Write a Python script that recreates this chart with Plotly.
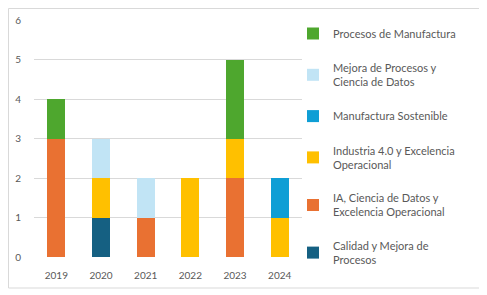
import plotly.graph_objects as go

years = ["2019", "2020", "2021", "2022", "2023", "2024"]
series_names = [
    "Calidad y Mejora de<br>Procesos",
    "IA, Ciencia de Datos y<br>Excelencia Operacional",
    "Industria 4.0 y Excelencia<br>Operacional",
    "Manufactura Sostenible",
    "Mejora de Procesos y<br>Ciencia de Datos",
    "Procesos de Manufactura",
]
calidad = [0, 1, 0, 0, 0, 0]
ia = [3, 0, 1, 0, 2, 0]
industria = [0, 1, 0, 2, 1, 1]
sostenible = [0, 0, 0, 0, 0, 1]
mejora = [0, 1, 1, 0, 0, 0]
procesos = [1, 0, 0, 0, 2, 0]
values = [calidad, ia, industria, sostenible, mejora, procesos]
colors = ["#156082", "#E97132", "#FFC000", "#0F9ED5", "#C1E4F5", "#4EA72E"]

# page has 8px body margin; figure occupies the rest of the 487x295 window
W, H = 479, 287
L, R, T, B = 26, 185, 12, 38
pw, ph = W - L - R, H - T - B

fig = go.Figure()
n = len(series_names)
for i, (name, vals, col) in enumerate(zip(series_names, values, colors)):
    fig.add_trace(go.Bar(x=years, y=vals, name=name, marker_color=col,
                         marker_line_width=0, legendgroup=name,
                         legendrank=n - i))

fig.update_layout(
    width=W, height=H, barmode="stack", bargap=0.6,
    margin=dict(l=L, r=R, t=T, b=B, autoexpand=False),
    paper_bgcolor="white", plot_bgcolor="white",
    font=dict(family="Lato, Noto Sans, sans-serif", size=10, color="#595959"),
    legend=dict(traceorder="grouped", x=(285 - L) / pw, y=(249 - 11) / ph,
                xanchor="left", yanchor="top", font=dict(size=11, color="#595959"),
                tracegroupgap=16, itemwidth=30, bgcolor="rgba(0,0,0,0)",
                maxheight=300),
    xaxis=dict(showgrid=False, showline=False, ticks="outside", ticklen=9,
               tickcolor="rgba(0,0,0,0)", tickfont=dict(size=10)),
    yaxis=dict(range=[0, 6], dtick=1, showgrid=True, gridcolor="#D9D9D9", gridwidth=1,
               zeroline=False, showline=False, ticks="outside", ticklen=10,
               tickcolor="rgba(0,0,0,0)", tickfont=dict(size=10)),
    shapes=[dict(type="rect", xref="paper", yref="paper",
                 x0=(0.5 - L) / pw, x1=(472 - L) / pw,
                 y0=(249 - 280) / ph, y1=(249 - 0.5) / ph,
                 line=dict(color="#D9D9D9", width=1), fillcolor="rgba(0,0,0,0)",
                 layer="below")],
)
fig.write_html("out.html")
